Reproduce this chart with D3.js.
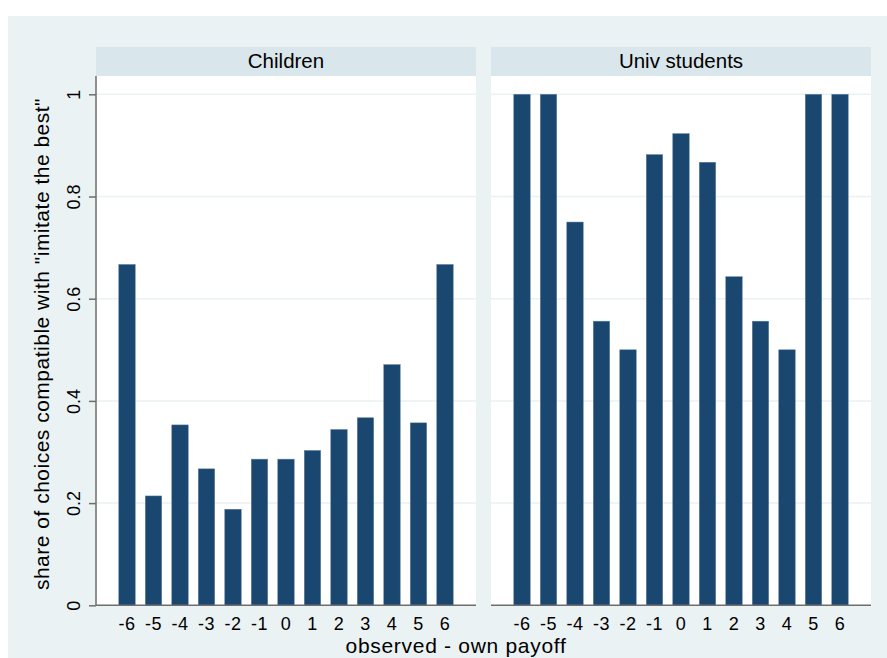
<!DOCTYPE html>
<html><head><meta charset="utf-8">
<script src="https://cdn.jsdelivr.net/npm/d3@7"></script>
<style>body{margin:0;background:#fff}svg{display:block}text{font-family:"Liberation Sans",Arial,sans-serif;fill:#000}</style>
</head><body><svg id="c" width="887" height="658"></svg>
<script>
const categories = ["-6","-5","-4","-3","-2","-1","0","1","2","3","4","5","6"];
const panels = ["Children","Univ students"];
const childrenValues = [0.667,0.214,0.353,0.267,0.188,0.286,0.286,0.303,0.344,0.367,0.471,0.357,0.667];
const univValues = [1,1,0.75,0.556,0.5,0.882,0.923,0.867,0.643,0.556,0.5,1,1];
const yTicks = [0,0.2,0.4,0.6,0.8,1];
const yTickLabels = ["0","0.2","0.4","0.6","0.8","1"];
const yTitle = 'share of choices compatible with "imitate the best"';
const xTitle = "observed - own payoff";

const seriesByPanel = [childrenValues, univValues];
const svg = d3.select("#c");
const W = 887, H = 658;
svg.append("rect").attr("x",0).attr("y",0).attr("width",W).attr("height",H).attr("fill","#fff");
svg.append("rect").attr("x",8).attr("y",16).attr("width",W-8).attr("height",H-16).attr("fill","#eaf2f3");

const plotTop = 76, plotBottom = 605.3, stripTop = 47;
const y = d3.scaleLinear().domain([0,1]).range([plotBottom, 94.3]);
const panelX = [[96,476],[491,871]];

panels.forEach((name,i)=>{
  const [x0,x1] = panelX[i];
  const g = svg.append("g");
  g.append("rect").attr("x",x0).attr("y",stripTop).attr("width",x1-x0).attr("height",plotTop-stripTop).attr("fill","#d9e6eb");
  g.append("text").attr("x",(x0+x1)/2).attr("y",67.7).attr("text-anchor","middle")
    .style("font-size","20.5px").text(name);
  g.append("rect").attr("x",x0).attr("y",plotTop).attr("width",x1-x0).attr("height",plotBottom-plotTop).attr("fill","#fff");
  g.selectAll("line.grid").data(yTicks.filter(t=>t>0)).enter().append("line")
    .attr("x1",x0).attr("x2",x1).attr("y1",d=>y(d)).attr("y2",d=>y(d))
    .attr("stroke","#eaf2f3").attr("stroke-width",1.5);
  const x = d3.scaleBand().domain(categories).range([x0,x1]).paddingInner(0.38).paddingOuter(0.86);
  const vals = seriesByPanel[i];
  g.selectAll("rect.bar").data(categories).enter().append("rect")
    .attr("x",d=>x(d)).attr("width",x.bandwidth())
    .attr("y",(d,j)=>y(vals[j])).attr("height",(d,j)=>y(0)-y(vals[j]))
    .attr("fill","#1a476f").attr("stroke","#5d7f9c").attr("stroke-width",0.5);
  const xa = d3.axisBottom(x).tickSize(0).tickPadding(0);
  const xg = g.append("g").attr("transform",`translate(0,${plotBottom})`).call(xa);
  xg.select(".domain").attr("d",`M${x0},0H${x1}`).attr("stroke","#6e6e6e").attr("stroke-width",1.5);
  xg.selectAll(".tick text").attr("y",25).attr("dy",null)
    .style("font-size","18px").style("font-family",'"Liberation Sans",Arial,sans-serif').attr("fill","#000").style("letter-spacing","0.4px");
  if(i===0){
    const ya = d3.axisLeft(y).tickValues(yTicks).tickFormat((d,k)=>yTickLabels[k]).tickSize(7).tickPadding(0);
    const yg = svg.append("g").attr("transform",`translate(${x0},0)`).call(ya);
    yg.select(".domain").attr("d",`M0,${plotTop}V${plotBottom}`).attr("stroke","#6e6e6e").attr("stroke-width",1.5);
    yg.selectAll(".tick line").attr("stroke","#6e6e6e").attr("stroke-width",1.5);
    yg.selectAll(".tick text").attr("x",null).attr("dy",null)
      .attr("transform","translate(-16,0) rotate(-90)")
      .attr("text-anchor","middle").attr("y",0)
      .style("font-size","18px").style("font-family",'"Liberation Sans",Arial,sans-serif').attr("fill","#000");
  }
});
svg.append("text").attr("transform","translate(49,344) rotate(-90)").attr("text-anchor","middle")
  .style("font-size","21px").style("letter-spacing","0.5px").text(yTitle);
svg.append("text").attr("x",456).attr("y",653.3).attr("text-anchor","middle")
  .style("font-size","21px").style("letter-spacing","0.7px").text(xTitle);
</script></body></html>
